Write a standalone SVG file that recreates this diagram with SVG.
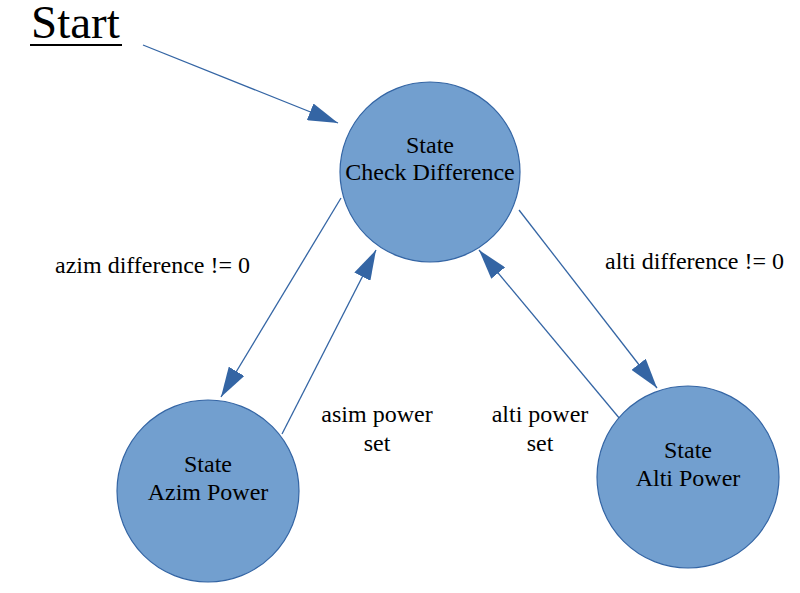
<svg xmlns="http://www.w3.org/2000/svg" width="800" height="593" viewBox="0 0 800 593">
<style>
.node{fill:#729fcf;stroke:#3465a4;stroke-width:1.2}
.t{font-family:"Liberation Serif",serif;font-size:24px;fill:#000;text-anchor:middle}
.lbl{font-family:"Liberation Serif",serif;font-size:24px;fill:#000}
.edge{stroke:#3465a4;stroke-width:1.3;fill:none;marker-end:url(#ah)}
</style>
<defs>
<marker id="ah" markerWidth="30" markerHeight="18" refX="30" refY="9" orient="auto" markerUnits="userSpaceOnUse">
<path d="M0,0 L30,9 L0,18 Z" fill="#3465a4"/>
</marker>
</defs>
<rect width="800" height="593" fill="#fff"/>
<g id="start">
<text x="31" y="38" style="font-family:'Liberation Serif',serif;font-size:47px">Start</text>
<rect x="30" y="44" width="92" height="2" fill="#000"/>
</g>
<g id="connectors">
<line class="edge" x1="143" y1="45" x2="338" y2="123"/>
<line class="edge" x1="341" y1="198" x2="221" y2="397"/>
<line class="edge" x1="282" y1="434" x2="376" y2="250"/>
<line class="edge" x1="519" y1="210" x2="657" y2="388"/>
<line class="edge" x1="625" y1="425" x2="479" y2="250"/>
</g>
<g id="check">
<circle class="node" cx="430" cy="172" r="90"/>
<text class="t" x="430" y="153">State</text>
<text class="t" x="430" y="180">Check Difference</text>
</g>
<g id="azim">
<circle class="node" cx="208" cy="491" r="91"/>
<text class="t" x="208" y="472">State</text>
<text class="t" x="208" y="500">Azim Power</text>
</g>
<g id="alti">
<circle class="node" cx="688" cy="477" r="91"/>
<text class="t" x="688" y="458">State</text>
<text class="t" x="688" y="486">Alti Power</text>
</g>
<g id="labels">
<text class="lbl" x="55" y="273">azim difference != 0</text>
<text class="lbl" x="605" y="269">alti difference != 0</text>
<text class="lbl" x="377" y="422" text-anchor="middle">asim power</text>
<text class="lbl" x="377" y="451" text-anchor="middle">set</text>
<text class="lbl" x="540" y="422" text-anchor="middle">alti power</text>
<text class="lbl" x="540" y="451" text-anchor="middle">set</text>
</g>
</svg>
